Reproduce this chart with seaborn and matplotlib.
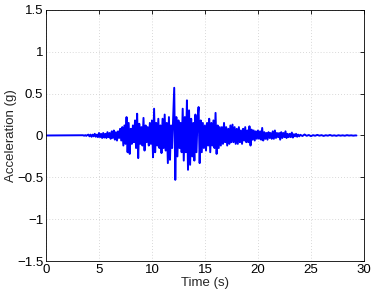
import matplotlib
matplotlib.use("Agg")
import matplotlib.pyplot as plt
import seaborn as sns
import pandas as pd

time_s = [
    0.0, 3.5, 3.6, 3.7, 3.8, 3.9,
    4.0, 4.1, 4.2, 4.3, 4.4, 4.5, 4.6, 4.7, 4.8, 4.9,
    5.0, 5.1, 5.2, 5.3, 5.4, 5.5, 5.6, 5.7, 5.8, 5.9,
    6.0, 6.1, 6.2, 6.3, 6.4, 6.5, 6.6, 6.7, 6.8, 6.9,
    7.0, 7.1, 7.2, 7.3, 7.4, 7.5, 7.6, 7.7, 7.8, 7.9,
    8.0, 8.1, 8.2, 8.3, 8.4, 8.5, 8.6, 8.7, 8.8, 8.9,
    9.0, 9.1, 9.2, 9.3, 9.4, 9.5, 9.6, 9.7, 9.8, 9.9,
    10.0, 10.1, 10.2, 10.3, 10.4, 10.5, 10.6, 10.7, 10.8, 10.9,
    11.0, 11.1, 11.2, 11.3, 11.4, 11.5, 11.6, 11.7, 11.8, 11.9,
    12.0, 12.1, 12.2, 12.3, 12.4, 12.5, 12.6, 12.7, 12.8, 12.9,
    13.0, 13.1, 13.2, 13.3, 13.4, 13.5, 13.6, 13.7, 13.8, 13.9,
    14.0, 14.1, 14.2, 14.3, 14.4, 14.5, 14.6, 14.7, 14.8, 14.9,
    15.0, 15.1, 15.2, 15.3, 15.4, 15.5, 15.6, 15.7, 15.8, 15.9,
    16.0, 16.1, 16.2, 16.3, 16.4, 16.5, 16.6, 16.7, 16.8, 16.9,
    17.0, 17.1, 17.2, 17.3, 17.4, 17.5, 17.6, 17.7, 17.8, 17.9,
    18.0, 18.1, 18.2, 18.3, 18.4, 18.5, 18.6, 18.7, 18.8, 18.9,
    19.0, 19.1, 19.2, 19.3, 19.4, 19.5, 19.6, 19.7, 19.8, 19.9,
    20.0, 20.1, 20.2, 20.3, 20.4, 20.5, 20.6, 20.7, 20.8, 20.9,
    21.0, 21.1, 21.2, 21.3, 21.4, 21.5, 21.6, 21.7, 21.8, 21.9,
    22.0, 22.1, 22.2, 22.3, 22.4, 22.5, 22.6, 22.7, 22.8, 22.9,
    23.0, 23.1, 23.2, 23.3, 23.4, 23.5, 23.6, 23.7, 23.8, 23.9,
    24.0, 24.2, 24.4, 24.6, 24.8, 25.0, 25.2, 25.4, 25.6, 25.8,
    26.0, 26.2, 26.4, 26.6, 26.8, 27.0, 27.2, 27.4, 27.6, 27.8,
    28.0, 28.2, 28.4, 28.6, 28.8, 29.0, 29.2, 29.3,
]

accel_g = [
    0.0, 0.003, -0.003, 0.004, -0.004, 0.005,
    0.01, -0.01, 0.01, -0.015, 0.01, -0.01, 0.02, -0.015, 0.01, -0.02,
    0.03, -0.02, 0.02, -0.03, 0.03, -0.025, 0.02, -0.03, 0.04, -0.02,
    0.03, -0.04, 0.05, -0.03, 0.06, -0.05, 0.04, -0.06, 0.05, -0.03,
    0.08, -0.06, 0.1, -0.12, 0.12, -0.1, 0.22, -0.2, 0.15, -0.22,
    0.08, -0.1, 0.12, -0.08, 0.18, -0.15, 0.26, -0.27, 0.14, -0.1,
    0.1, -0.12, 0.21, -0.18, 0.12, -0.08, 0.1, -0.12, 0.15, -0.1,
    0.18, -0.26, 0.32, -0.2, 0.15, -0.12, 0.2, -0.15, 0.12, -0.21,
    0.2, -0.15, 0.25, -0.18, 0.15, -0.33, 0.22, -0.29, 0.12, -0.15,
    0.2, 0.57, -0.53, 0.22, -0.25, 0.18, -0.15, 0.15, -0.2, 0.32,
    -0.3, 0.22, -0.2, 0.42, -0.41, 0.3, -0.35, 0.2, -0.25, 0.15,
    -0.3, 0.25, -0.2, 0.2, 0.34, -0.33, 0.18, -0.2, 0.15, -0.15,
    0.12, -0.18, 0.15, -0.12, 0.2, -0.2, 0.15, -0.12, 0.18, -0.15,
    0.27, -0.22, 0.12, -0.15, 0.1, -0.12, 0.1, -0.1, 0.15, -0.08,
    0.1, -0.12, 0.08, -0.1, 0.12, -0.08, 0.13, -0.08, 0.1, -0.1,
    0.08, -0.1, 0.1, -0.08, 0.06, -0.1, 0.08, -0.06, 0.1, -0.08,
    0.06, -0.08, 0.11, -0.12, 0.07, -0.05, 0.06, -0.06, 0.05, -0.04,
    0.06, -0.04, 0.05, -0.05, 0.09, -0.06, 0.04, -0.04, 0.03, -0.05,
    0.04, -0.03, 0.03, -0.04, 0.05, -0.04, 0.06, -0.03, 0.03, -0.02,
    0.03, -0.05, 0.04, -0.03, 0.03, -0.02, 0.05, -0.03, 0.02, -0.02,
    0.02, -0.02, 0.035, -0.025, 0.015, -0.01, 0.02, -0.015, 0.01, -0.01,
    0.008, -0.006, 0.012, -0.004, 0.006, -0.008, 0.004, -0.003, 0.007, -0.002,
    0.004, -0.005, 0.003, -0.002, 0.006, -0.003, 0.002, -0.004, 0.003, -0.002,
    0.002, -0.003, 0.004, -0.001, 0.002, -0.002, 0.001, 0.0,
]

x_ticks = [0, 5, 10, 15, 20, 25, 30]
y_ticks = [-1.5, -1, -0.5, 0, 0.5, 1, 1.5]
y_tick_labels = ["\u22121.5", "\u22121", "\u22120.5", "0", "0.5", "1", "1.5"]

sns.set_style("white")
plt.rcParams["font.family"] = ["Liberation Sans", "DejaVu Sans"]

df = pd.DataFrame({"Time (s)": time_s, "Acceleration (g)": accel_g})

fig = plt.figure(figsize=(3.74, 2.92), dpi=100)
ax = fig.add_axes([0.123, 0.106, 0.850, 0.860])
sns.lineplot(data=df, x="Time (s)", y="Acceleration (g)", estimator=None,
             sort=False, color=(0, 0, 1), linewidth=1.4, ax=ax)

ax.set_xlim(0, 30)
ax.set_ylim(-1.5, 1.5)
ax.set_xticks(x_ticks)
ax.set_xticklabels([str(v) for v in x_ticks])
ax.set_yticks(y_ticks)
ax.set_yticklabels(y_tick_labels)
ax.grid(True, linestyle=(0, (1, 2.5)), color="#cccccc", linewidth=0.6)
ax.tick_params(direction="in", top=True, right=True, length=3, width=0.6,
               labelsize=9.5, pad=2, colors="black")
for s in ax.spines.values():
    s.set_color("black")
    s.set_linewidth(0.6)
ax.set_xlabel("Time (s)", fontsize=9.5, labelpad=1)
ax.set_ylabel("Acceleration (g)", fontsize=9.5, labelpad=0)

fig.savefig("out.png", dpi=100)
